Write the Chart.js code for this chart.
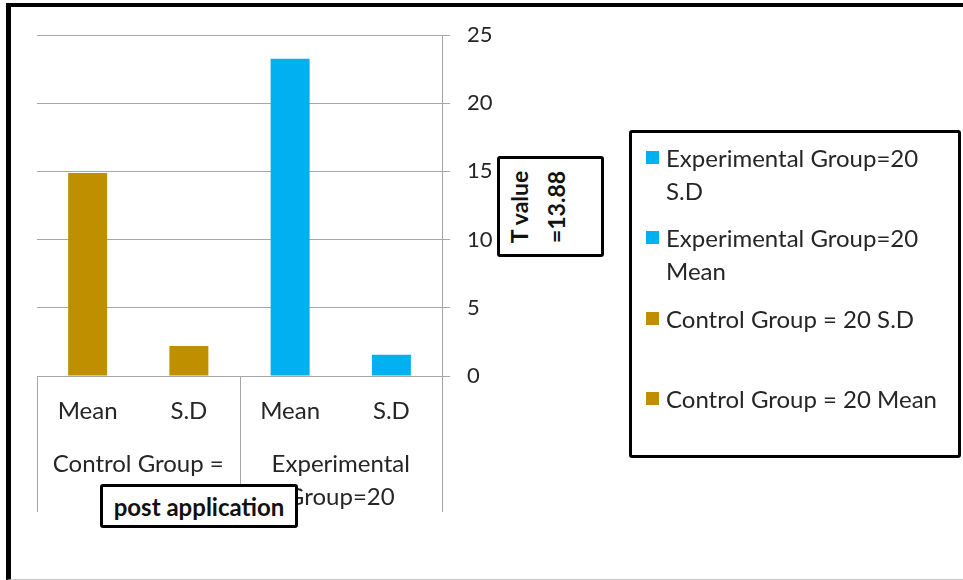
<!DOCTYPE html>
<html>
<head>
<meta charset="utf-8">
<script src="https://cdn.jsdelivr.net/npm/chart.js@4.4.1/dist/chart.umd.min.js"></script>
<style>
    html, body { margin: 0; padding: 0; background: #fff; }
    body { width: 963px; height: 580px; position: relative; overflow: hidden; font-family: Lato, "Open Sans", sans-serif; color: #262626; }
    #frame { position: absolute; left: 6px; top: 3px; width: 957px; height: 577px; box-sizing: border-box;
             border-top: 4px solid #000; border-left: 5px solid #000; border-bottom: 1px solid #c8c8c8; }
    #chart { position: absolute; left: 0; top: 0; }
    .box { position: absolute; background: #fff; border: 3.5px solid #000; border-radius: 3px; box-sizing: border-box; }
    #post { left: 100px; top: 484px; width: 198px; height: 44px; font-weight: bold; font-size: 24px; color: #111;
            display: flex; align-items: center; justify-content: center; }
    #tval { left: 497px; top: 156px; width: 107px; height: 101px; }
    #tval div { position: absolute; left: 38px; top: 50%; transform: translate(-50%, -50%) rotate(-90deg);
                white-space: nowrap; text-align: center; font-weight: bold; font-size: 23px; line-height: 37px; color: #111; }
    #legend { left: 629px; top: 130px; width: 332px; height: 328px; padding-top: 8px; }
    .item { position: relative; height: 80.4px; padding-left: 34px; font-size: 24px; line-height: 33px; white-space: nowrap; }
    .item i { position: absolute; left: 14px; top: 10px; width: 13px; height: 13px; }
</style>
</head>
<body>
<div id="frame"></div>
<canvas id="chart" width="963" height="580"></canvas>
<div class="box" id="tval"></div>
<div class="box" id="legend"></div>
<div class="box" id="post"></div>
<script>
// chart values
const categories = ['Mean', 'S.D', 'Mean', 'S.D'];
const values = [14.88, 2.2, 23.25, 1.55];
const barColors = ['#BF8F00', '#BF8F00', '#00B0F0', '#00B0F0'];
const groups = [['Control Group =', '20'], ['Experimental', 'Group=20']];
const yTicks = [0, 5, 10, 15, 20, 25];

// legend entries (top to bottom), each line listed
const legendLabels = [
    ['Experimental Group=20', 'S.D'],
    ['Experimental Group=20', 'Mean'],
    ['Control Group = 20 S.D'],
    ['Control Group = 20 Mean']
];
const legendColors = ['#00B0F0', '#00B0F0', '#BF8F00', '#BF8F00'];
const tValueLines = ['T value', '=13.88'];
const footNote = 'post application';

const gridColor = '#a6a6a6';
const textColor = '#262626';
const fontFamily = 'Lato, "Open Sans", sans-serif';

document.getElementById('post').textContent = footNote;
document.getElementById('tval').innerHTML = '<div>' + tValueLines.join('<br>') + '</div>';
document.getElementById('legend').innerHTML = legendLabels.map((lines, i) =>
    '<div class="item"><i style="background:' + legendColors[i] + '"></i>' + lines.join('<br>') + '</div>'
).join('');

// group labels under the category labels, with separator lines
const groupAxis = {
    id: 'groupAxis',
    afterDraw(chart) {
        const ctx = chart.ctx;
        const x = chart.scales.x;
        const area = chart.chartArea;
        const half = (x.getPixelForValue(1) - x.getPixelForValue(0)) / 2;
        const edges = [x.getPixelForValue(0) - half, x.getPixelForValue(2) - half, x.getPixelForValue(3) + half];
        ctx.save();
        ctx.strokeStyle = gridColor;
        ctx.lineWidth = 1;
        edges.forEach(px => {
            const p = Math.round(px) + 0.5;
            ctx.beginPath();
            ctx.moveTo(p, area.bottom);
            ctx.lineTo(p, area.bottom + 136);
            ctx.stroke();
        });
        ctx.fillStyle = textColor;
        ctx.font = '24px ' + fontFamily;
        ctx.textAlign = 'center';
        ctx.textBaseline = 'middle';
        groups.forEach((lines, i) => {
            const cx = (x.getPixelForValue(i * 2) + x.getPixelForValue(i * 2 + 1)) / 2;
            lines.forEach((line, j) => ctx.fillText(line, cx, area.bottom + 88 + j * 33));
        });
        ctx.restore();
    }
};

new Chart(document.getElementById('chart'), {
    type: 'bar',
    data: {
        labels: categories,
        datasets: [{
            data: values,
            backgroundColor: barColors,
            barPercentage: 0.385,
            categoryPercentage: 1
        }]
    },
    options: {
        responsive: false,
        animation: false,
        layout: { padding: { left: 37, top: 35, right: 0, bottom: 0 } },
        plugins: { legend: { display: false }, tooltip: { enabled: false } },
        scales: {
            x: {
                grid: { display: false, drawTicks: false },
                border: { display: false },
                ticks: { color: textColor, font: { family: fontFamily, size: 24 }, padding: 21 },
                afterFit: s => { s.height = 204; }
            },
            y: {
                position: 'right',
                min: 0,
                max: 25,
                afterBuildTicks: s => { s.ticks = yTicks.map(v => ({ value: v })); },
                grid: { color: gridColor, tickLength: 8 },
                border: { color: gridColor },
                ticks: { color: textColor, font: { family: fontFamily, size: 22 }, padding: 17 },
                afterFit: s => { s.width = 521; }
            }
        }
    },
    plugins: [groupAxis]
});
</script>
</body>
</html>
